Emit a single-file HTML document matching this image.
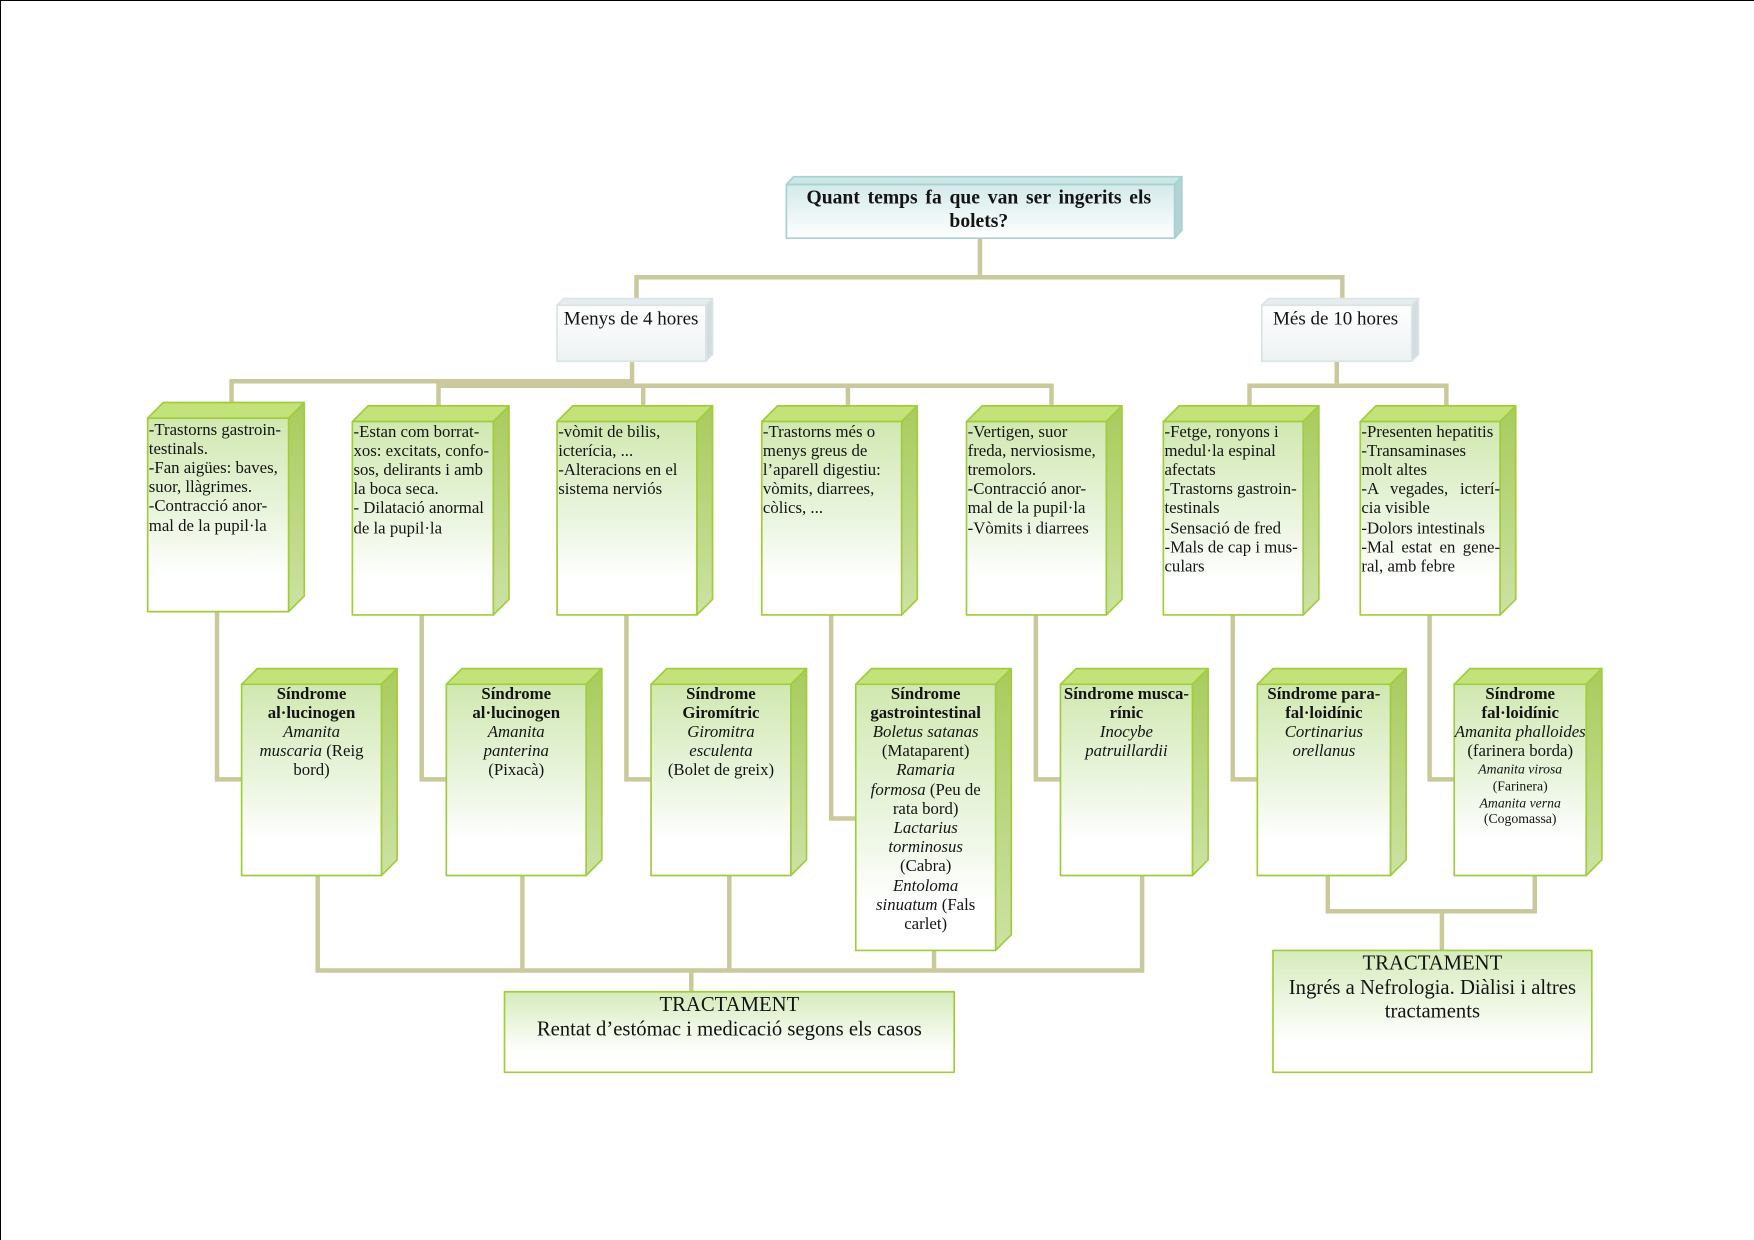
<!DOCTYPE html>
<html>
<head>
<meta charset="utf-8">
<style>
html,body{margin:0;padding:0;background:#fff;}
body{width:1754px;height:1240px;overflow:hidden;position:relative;}
#bt{position:absolute;left:0;top:0;width:1754px;height:1px;background:#000;z-index:5;}
#bl{position:absolute;left:0;top:0;width:1px;height:1240px;background:#000;z-index:5;}
#wrap{position:absolute;left:0;top:0;width:1568px;height:1109px;transform-origin:0 0;transform:scale(1.118622,1.118124);font-family:"Liberation Serif","Times New Roman",serif;color:#141414;}
#wrap svg{position:absolute;left:0;top:0;}
.sym{position:absolute;font-size:15px;line-height:17.2px;white-space:nowrap;}
.sym .j{display:block;white-space:normal;width:124px;text-align:justify;text-align-last:justify;}
.syn{position:absolute;font-size:15px;line-height:17.2px;white-space:nowrap;text-align:center;}
.syn .sm{font-size:12.3px;line-height:14.6px;display:block;}
.tr{position:absolute;font-size:18.5px;line-height:22px;text-align:center;white-space:nowrap;}
</style>
</head>
<body>
<div id="bt"></div><div id="bl"></div>
<div id="wrap">
<svg width="1568" height="1109" viewBox="0 0 1568 1109" xmlns="http://www.w3.org/2000/svg">
<defs>
<linearGradient id="gF" x1="0" y1="0" x2="0" y2="1">
<stop offset="0" stop-color="#d1e8b0"/>
<stop offset="0.5" stop-color="#eaf5df"/>
<stop offset="0.82" stop-color="#ffffff"/>
<stop offset="1" stop-color="#ffffff"/>
</linearGradient>
<linearGradient id="gR" x1="0" y1="0" x2="0" y2="1">
<stop offset="0" stop-color="#a8cb5c"/>
<stop offset="1" stop-color="#cde2a4"/>
</linearGradient>
<linearGradient id="tF" x1="0" y1="0" x2="0" y2="1">
<stop offset="0" stop-color="#d4eaea"/>
<stop offset="1" stop-color="#ffffff"/>
</linearGradient>
<linearGradient id="mF" x1="0" y1="0" x2="0" y2="1">
<stop offset="0" stop-color="#ffffff"/>
<stop offset="1" stop-color="#edf2f3"/>
</linearGradient>
<linearGradient id="trF" x1="0" y1="0" x2="0" y2="1">
<stop offset="0" stop-color="#d6ebbb"/>
<stop offset="0.75" stop-color="#ffffff"/>
<stop offset="1" stop-color="#ffffff"/>
</linearGradient>
</defs>

<!-- connectors -->
<g fill="none" stroke="#c9c99c" stroke-width="4" stroke-linejoin="miter">
<path d="M876 213 V248"/>
<path d="M569 270 V248 H1200 V270"/>
<path d="M565 323 V345"/>
<path d="M207 361 V341 H565"/>
<path d="M392 364 V345 H940 V364"/>
<path d="M575 345 V364"/>
<path d="M758 345 V364"/>
<path d="M1195 323 V345"/>
<path d="M1117 364 V345 H1293 V364"/>
<path d="M194 547 V697 H216"/>
<path d="M377 550 V697 H399"/>
<path d="M560 550 V697 H582"/>
<path d="M743 550 V732 H765"/>
<path d="M926 550 V697 H948"/>
<path d="M1102 550 V697 H1124"/>
<path d="M1278 550 V697 H1300"/>
<path d="M284 778 V868 H1021 V778"/>
<path d="M467 778 V868"/>
<path d="M652 778 V868"/>
<path d="M835 846 V868"/>
<path d="M618 868 V887"/>
<path d="M1187 778 V815 H1372 V778"/>
<path d="M1289 815 V850"/>
</g>

<!-- top question box -->
<g stroke="#a6d2d2" stroke-width="1.5" stroke-linejoin="round">
<polygon points="703,165 709.5,158 1056.5,158 1050,165" fill="#cde6e6"/>
<polygon points="1050,165 1056.5,158 1056.5,206 1050,213" fill="#b4d4d4"/>
<rect x="703" y="165" width="347" height="48" fill="url(#tF)"/>
</g>

<!-- Menys / Més boxes -->
<g stroke="#dce4e6" stroke-width="1.5" stroke-linejoin="round">
<polygon points="498,273 504,267 637,267 631,273" fill="#e6edef"/>
<polygon points="631,273 637,267 637,317 631,323" fill="#d3dddf"/>
<rect x="498" y="273" width="133" height="50" fill="url(#mF)"/>
<polygon points="1128,273 1134,267 1268,267 1262,273" fill="#e6edef"/>
<polygon points="1262,273 1268,267 1268,317 1262,323" fill="#d3dddf"/>
<rect x="1128" y="273" width="134" height="50" fill="url(#mF)"/>
</g>

<!-- green 3D boxes -->
<g stroke="#9fcd3c" stroke-width="1.5" stroke-linejoin="round">
<polygon points="132,374 146,360 272,360 258,374" fill="#c4e27a"/>
<polygon points="258,374 272,360 272,533 258,547" fill="url(#gR)"/>
<rect x="132" y="374" width="126" height="173" fill="url(#gF)"/>

<polygon points="315,377 329,363 455,363 441,377" fill="#c4e27a"/>
<polygon points="441,377 455,363 455,536 441,550" fill="url(#gR)"/>
<rect x="315" y="377" width="126" height="173" fill="url(#gF)"/>

<polygon points="498,377 512,363 637,363 623,377" fill="#c4e27a"/>
<polygon points="623,377 637,363 637,536 623,550" fill="url(#gR)"/>
<rect x="498" y="377" width="125" height="173" fill="url(#gF)"/>

<polygon points="681,377 695,363 820,363 806,377" fill="#c4e27a"/>
<polygon points="806,377 820,363 820,536 806,550" fill="url(#gR)"/>
<rect x="681" y="377" width="125" height="173" fill="url(#gF)"/>

<polygon points="864,377 878,363 1003,363 989,377" fill="#c4e27a"/>
<polygon points="989,377 1003,363 1003,536 989,550" fill="url(#gR)"/>
<rect x="864" y="377" width="125" height="173" fill="url(#gF)"/>

<polygon points="1040,377 1054,363 1179,363 1165,377" fill="#c4e27a"/>
<polygon points="1165,377 1179,363 1179,536 1165,550" fill="url(#gR)"/>
<rect x="1040" y="377" width="125" height="173" fill="url(#gF)"/>

<polygon points="1216,377 1230,363 1355,363 1341,377" fill="#c4e27a"/>
<polygon points="1341,377 1355,363 1355,536 1341,550" fill="url(#gR)"/>
<rect x="1216" y="377" width="125" height="173" fill="url(#gF)"/>

<polygon points="216,612 230,598 355,598 341,612" fill="#c4e27a"/>
<polygon points="341,612 355,598 355,769 341,783" fill="url(#gR)"/>
<rect x="216" y="612" width="125" height="171" fill="url(#gF)"/>

<polygon points="399,612 413,598 538,598 524,612" fill="#c4e27a"/>
<polygon points="524,612 538,598 538,769 524,783" fill="url(#gR)"/>
<rect x="399" y="612" width="125" height="171" fill="url(#gF)"/>

<polygon points="582,612 596,598 721,598 707,612" fill="#c4e27a"/>
<polygon points="707,612 721,598 721,769 707,783" fill="url(#gR)"/>
<rect x="582" y="612" width="125" height="171" fill="url(#gF)"/>

<polygon points="765,612 779,598 904,598 890,612" fill="#c4e27a"/>
<polygon points="890,612 904,598 904,836 890,850" fill="url(#gR)"/>
<rect x="765" y="612" width="125" height="238" fill="url(#gF)"/>

<polygon points="948,612 962,598 1080,598 1066,612" fill="#c4e27a"/>
<polygon points="1066,612 1080,598 1080,769 1066,783" fill="url(#gR)"/>
<rect x="948" y="612" width="118" height="171" fill="url(#gF)"/>

<polygon points="1124,612 1138,598 1257,598 1243,612" fill="#c4e27a"/>
<polygon points="1243,612 1257,598 1257,769 1243,783" fill="url(#gR)"/>
<rect x="1124" y="612" width="119" height="171" fill="url(#gF)"/>

<polygon points="1300,612 1314,598 1432,598 1418,612" fill="#c4e27a"/>
<polygon points="1418,612 1432,598 1432,769 1418,783" fill="url(#gR)"/>
<rect x="1300" y="612" width="118" height="171" fill="url(#gF)"/>

<rect x="451" y="887" width="402" height="72" fill="url(#trF)"/>
<rect x="1138" y="850" width="285" height="109" fill="url(#trF)"/>
</g>
</svg>

<!-- Question -->
<div style="position:absolute;left:721px;top:166px;width:308px;font-size:17.5px;line-height:21px;font-weight:bold;">
<div style="text-align:justify;text-align-last:justify;white-space:nowrap;">Quant temps fa que van ser ingerits els</div>
<div style="text-align:center;">bolets?</div>
</div>

<div style="position:absolute;left:504px;top:275px;font-size:17px;line-height:20px;white-space:nowrap;">Menys de 4 hores</div>
<div style="position:absolute;left:1138px;top:275px;font-size:17px;line-height:20px;white-space:nowrap;">Més de 10 hores</div>

<!-- symptom texts -->
<div class="sym" style="left:133px;top:376.5px;">-Trastorns gastroin-<br>testinals.<br>-Fan aigües: baves,<br>suor, llàgrimes.<br>-Contracció anor-<br>mal de la pupil·la</div>
<div class="sym" style="left:316px;top:378.5px;">-Estan com borrat-<br>xos: excitats, confo-<br>sos, delirants i amb<br>la boca seca.<br>- Dilatació anormal<br>de la pupil·la</div>
<div class="sym" style="left:499px;top:378.5px;">-vòmit de bilis,<br>icterícia, ...<br>-Alteracions en el<br>sistema nerviós</div>
<div class="sym" style="left:682px;top:378.5px;">-Trastorns més o<br>menys greus de<br>l’aparell digestiu:<br>vòmits, diarrees,<br>còlics, ...</div>
<div class="sym" style="left:865px;top:378.5px;">-Vertigen, suor<br>freda, nerviosisme,<br>tremolors.<br>-Contracció anor-<br>mal de la pupil·la<br>-Vòmits i diarrees</div>
<div class="sym" style="left:1041px;top:378.5px;">-Fetge, ronyons i<br>medul·la espinal<br>afectats<br>-Trastorns gastroin-<br>testinals<br>-Sensació de fred<br>-Mals de cap i mus-<br>culars</div>
<div class="sym" style="left:1217px;top:378.5px;">-Presenten hepatitis<br>-Transaminases<br>molt altes<span class="j">-A vegades, icterí-</span>cia visible<br>-Dolors intestinals<span class="j">-Mal estat en gene-</span>ral, amb febre</div>

<!-- syndrome texts -->
<div class="syn" style="left:216px;top:612.5px;width:125px;"><b>Síndrome</b><br><b>al·lucinogen</b><br><i>Amanita</i><br><i>muscaria</i> (Reig<br>bord)</div>
<div class="syn" style="left:399px;top:612.5px;width:125px;"><b>Síndrome</b><br><b>al·lucinogen</b><br><i>Amanita</i><br><i>panterina</i><br>(Pixacà)</div>
<div class="syn" style="left:582px;top:612.5px;width:125px;"><b>Síndrome</b><br><b>Giromítric</b><br><i>Giromitra</i><br><i>esculenta</i><br>(Bolet de greix)</div>
<div class="syn" style="left:765px;top:612.5px;width:125px;"><b>Síndrome</b><br><b>gastrointestinal</b><br><i>Boletus satanas</i><br>(Mataparent)<br><i>Ramaria</i><br><i>formosa</i> (Peu de<br>rata bord)<br><i>Lactarius</i><br><i>torminosus</i><br>(Cabra)<br><i>Entoloma</i><br><i>sinuatum</i> (Fals<br>carlet)</div>
<div class="syn" style="left:948px;top:612.5px;width:118px;"><b>Síndrome musca-</b><br><b>rínic</b><br><i>Inocybe</i><br><i>patruillardii</i></div>
<div class="syn" style="left:1124px;top:612.5px;width:119px;"><b>Síndrome para-</b><br><b>fal·loidínic</b><br><i>Cortinarius</i><br><i>orellanus</i></div>
<div class="syn" style="left:1300px;top:612.5px;width:118px;"><b>Síndrome</b><br><b>fal·loidínic</b><br><i>Amanita phalloides</i><br>(farinera borda)<span class="sm"><i>Amanita virosa</i></span><span class="sm">(Farinera)</span><span class="sm"><i>Amanita verna</i></span><span class="sm">(Cogomassa)</span></div>

<!-- tractament texts -->
<div class="tr" style="left:451px;top:888px;width:402px;">TRACTAMENT<br>Rentat d’estómac i medicació segons els casos</div>
<div class="tr" style="left:1138px;top:852px;width:285px;line-height:21.5px;">TRACTAMENT<br>Ingrés a Nefrologia. Diàlisi i altres<br>tractaments</div>
</div>
</body>
</html>
